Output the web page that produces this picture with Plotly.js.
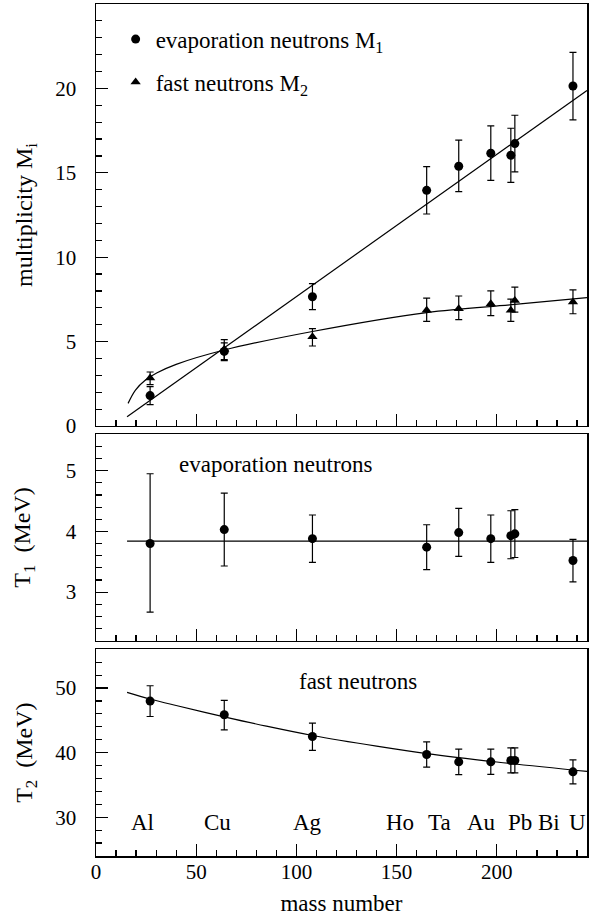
<!DOCTYPE html>
<html>
<head>
<meta charset="utf-8">
<script src="https://cdn.plot.ly/plotly-3.0.1.min.js"></script>
<style>html,body{margin:0;padding:0;background:#fff;}#chart{width:591px;height:918px;}</style>
</head>
<body>
<div id="chart"></div>
<script>
// ---- data ----
var elements = ["Al","Cu","Ag","Ho","Ta","Au","Pb","Bi","U"];
var massNumber = [27, 64, 108, 165, 181, 197, 207, 209, 238];

// multiplicities
var M1 = [1.80, 4.42, 7.66, 13.96, 15.39, 16.16, 16.04, 16.73, 20.14];
var M1errPlus  = [0.53, 0.50, 0.77, 1.41, 1.54, 1.62, 1.60, 1.68, 1.99];
var M1errMinus = [0.53, 0.55, 0.77, 1.40, 1.51, 1.61, 1.61, 1.67, 2.01];
var M2 = [2.85, 4.55, 5.28, 6.85, 6.95, 7.24, 6.85, 7.44, 7.34];
var M2errPlus  = [0.35, 0.57, 0.49, 0.73, 0.75, 0.77, 0.67, 0.79, 0.73];
var M2errMinus = [0.40, 0.62, 0.54, 0.65, 0.65, 0.70, 0.65, 0.69, 0.69];

// temperatures
var T1 = [3.80, 4.03, 3.88, 3.74, 3.98, 3.88, 3.93, 3.96, 3.52];
var T1errPlus  = [1.15, 0.60, 0.39, 0.37, 0.40, 0.39, 0.41, 0.40, 0.35];
var T1errMinus = [1.13, 0.60, 0.39, 0.37, 0.39, 0.39, 0.38, 0.39, 0.35];
var T2 = [47.98, 45.87, 42.50, 39.72, 38.58, 38.58, 38.79, 38.79, 37.03];
var T2errPlus  = [2.38, 2.22, 2.07, 1.96, 1.96, 1.96, 1.96, 1.96, 1.86];
var T2errMinus = [2.38, 2.33, 2.16, 1.97, 1.98, 1.95, 1.92, 1.92, 1.86];

// fitted curves
var fitM1x = [15.5, 245];
var fitM1y = [0.55, 19.88];
var fitM2x = [16, 19.7, 24.7, 30.5, 40, 64, 108, 165, 209, 245];
var fitM2y = [1.34, 2.13, 2.72, 3.15, 3.65, 4.50, 5.60, 6.72, 7.20, 7.60];
var fitT1x = [15.5, 245];
var fitT1y = [3.84, 3.84];
var fitT2x = [15.5, 27, 40, 64, 85, 108, 140, 165, 200, 245];
var fitT2y = [49.33, 48.30, 47.30, 45.55, 44.10, 42.66, 41.00, 39.85, 38.55, 37.10];

// element label positions
var elemLabelX = [23.2, 60.8, 105.7, 151.9, 171.4, 192.4, 211.7, 226.0, 240.3];
var elemLabelY = 29.2;

var legendLabels = ["evaporation neutrons M<sub>1</sub>", "fast neutrons M<sub>2</sub>"];
var panelLabels = ["evaporation neutrons", "fast neutrons"];
var yTitles = ["multiplicity M<sub>i</sub>", "T<sub>1</sub>  (MeV)", "T<sub>2</sub>  (MeV)"];
var xTitle = "mass number";

// ---- styling ----
var FONT = "'Liberation Serif', 'Times New Roman', serif";
var INK = "#000";
var errStyle = function(p, m){ return {type:'data', symmetric:false, array:p, arrayminus:m, color:INK, thickness:1.2, width:3.5}; };
var lineStyle = {color:INK, width:1.2};

var traces = [
  {x:fitM1x, y:fitM1y, xaxis:'x3', yaxis:'y', mode:'lines', line:lineStyle, showlegend:false, hoverinfo:'skip'},
  {x:fitM2x, y:fitM2y, xaxis:'x3', yaxis:'y', mode:'lines', line:Object.assign({shape:'spline', smoothing:1}, lineStyle), showlegend:false, hoverinfo:'skip'},
  {x:massNumber, y:M1, xaxis:'x3', yaxis:'y', mode:'markers', name:legendLabels[0], legendgroup:'a',
   marker:{symbol:'circle', size:9, color:INK}, error_y:errStyle(M1errPlus, M1errMinus)},
  {x:massNumber, y:M2, xaxis:'x3', yaxis:'y', mode:'markers', name:legendLabels[1], legendgroup:'b',
   marker:{symbol:'triangle-up', size:9, color:INK}, error_y:errStyle(M2errPlus, M2errMinus)},
  {x:fitT1x, y:fitT1y, xaxis:'x2', yaxis:'y2', mode:'lines', line:lineStyle, showlegend:false, hoverinfo:'skip'},
  {x:massNumber, y:T1, xaxis:'x2', yaxis:'y2', mode:'markers', showlegend:false,
   marker:{symbol:'circle', size:9, color:INK}, error_y:errStyle(T1errPlus, T1errMinus)},
  {x:fitT2x, y:fitT2y, xaxis:'x', yaxis:'y3', mode:'lines', line:Object.assign({shape:'spline', smoothing:1}, lineStyle), showlegend:false, hoverinfo:'skip'},
  {x:massNumber, y:T2, xaxis:'x', yaxis:'y3', mode:'markers', showlegend:false,
   marker:{symbol:'circle', size:9, color:INK}, error_y:errStyle(T2errPlus, T2errMinus)}
];

var TICKF = {family:FONT, size:21, color:INK};
var TXT = {family:FONT, size:23, color:INK};
var TITLEF = {family:FONT, size:24, color:INK};

function xAxis(anchor, showLabels){
  return {anchor:anchor, range:[0,245], dtick:50, tick0:0, ticks:'inside', ticklen:12, tickwidth:1.2, tickcolor:INK,
    minor:{dtick:10, tick0:0, ticks:'inside', ticklen:6, tickwidth:1.2, tickcolor:INK},
    showline:true, mirror:true, linecolor:INK, linewidth:1.5, showgrid:false, zeroline:false,
    showticklabels:showLabels, tickfont:TICKF, ticklabelstandoff:-4};
}
function yAxis(anchor, domain, range, dtick, minorDtick, title, standoff){
  return {anchor:anchor, domain:domain, range:range, dtick:dtick, tick0:0, ticks:'inside', ticklen:12, tickwidth:1.2, tickcolor:INK,
    minor:{dtick:minorDtick, tick0:0, ticks:'inside', ticklen:6, tickwidth:1.2, tickcolor:INK},
    showline:true, mirror:true, linecolor:INK, linewidth:1.5, showgrid:false, zeroline:false,
    tickfont:TICKF, ticklabelstandoff:14,
    title:{text:title, font:TITLEF, standoff:standoff}, automargin:false};
}

var annotations = [];
elements.forEach(function(el, i){
  annotations.push({text:el, x:elemLabelX[i], y:elemLabelY, xref:'x', yref:'y3', showarrow:false, font:TXT});
});
annotations.push({text:panelLabels[0], x:90, y:5.11, xref:'x2', yref:'y2', showarrow:false, font:TXT});
annotations.push({text:panelLabels[1], x:130.5, y:51.0, xref:'x', yref:'y3', showarrow:false, font:TXT});

var layout = {
  width:591, height:918,
  margin:{l:96, r:4, t:4, b:62},
  paper_bgcolor:'#fff', plot_bgcolor:'#fff',
  font:{family:FONT, color:INK},
  showlegend:true,
  legend:{x:0.040, y:0.984, xanchor:'left', yanchor:'top', bgcolor:'rgba(0,0,0,0)', borderwidth:0,
    font:TXT, tracegroupgap:10},
  xaxis: Object.assign(xAxis('y3', true), {title:{text:xTitle, font:TXT, standoff:12}, automargin:false}),
  xaxis2: Object.assign(xAxis('y2', false), {matches:'x'}),
  xaxis3: Object.assign(xAxis('y', false), {matches:'x'}),
  yaxis3: yAxis('x', [0, 0.2426], [24, 56], 10, 2, yTitles[2], 16),
  yaxis2: yAxis('x2', [0.2527, 0.4950], [2.2, 5.6], 1, 0.2, yTitles[1], 28),
  yaxis: yAxis('x3', [0.5047, 1], [0, 25], 5, 1, yTitles[0], 16),
  annotations: annotations
};

Plotly.newPlot('chart', traces, layout, {displayModeBar:false, staticPlot:true});
</script>
</body>
</html>
